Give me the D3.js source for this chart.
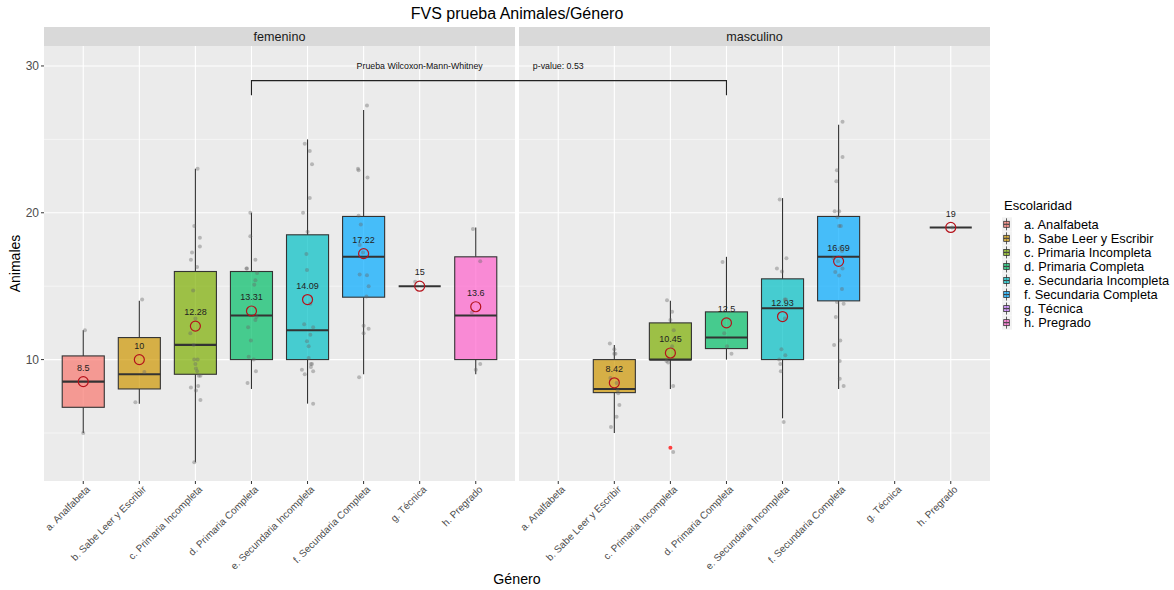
<!DOCTYPE html>
<html><head><meta charset="utf-8">
<script src="https://cdn.jsdelivr.net/npm/d3@7"></script>
<style>body{margin:0;background:#fff} text{font-family:"Liberation Sans",Arial,sans-serif}</style>
</head><body><svg id="c" width="1174" height="590"></svg>
<script>
const categories = ["a. Analfabeta","b. Sabe Leer y Escribir","c. Primaria Incompleta","d. Primaria Completa","e. Secundaria Incompleta","f. Secundaria Completa","g. Técnica","h. Pregrado"];
const genders = ["femenino","masculino"];
const colors = ["#F8766D","#CD9600","#7CAE00","#00BE67","#00BFC4","#00A9FF","#C77CFF","#FF61CC"];
// [lower whisker, q1, median, q3, upper whisker]
const femBoxes = [[5,6.75,8.5,10.25,12],[7,8,9,11.5,14],[3,9,11,16,23],[8,10,13,16,20],[7,10,12,18.5,25],[9,14.25,17,19.75,27],[15,15,15,15,15],[9,10,13,17,19]];
const mascBoxes = [null,[5,7.75,8,10,11],[8,10,10,12.5,14],[10,10.75,11.5,13.25,17],[6,10,13.5,15.5,21],[8,14,17,19.75,26],null,[19,19,19,19,19]];
const femMeans = [8.5,10,12.28,13.31,14.09,17.22,15,13.6];
const mascMeans = [null,8.42,10.45,12.5,12.93,16.69,null,19];
const mascOutliers = [[],[],[4],[],[],[],[],[]];
const femOutliers = [[],[],[],[],[],[],[],[]];
// jittered observations: [value, horizontal jitter in category units]
const femPoints = [
 [[12,.03],[5,0]],
 [[14.1,.05],[9.16,.09],[7.1,-.07]],
 [[23,.04],[19.1,-.02],[18.3,.08],[17.7,.08],[17.3,-.06],[16.8,-.08],[16.3,.03],[14.7,-.04],[12.8,0],[11.8,-.09],[11,-.03],[10,-.02],[10,.04],[9.7,0],[9.4,.01],[9.2,.03],[8.9,.09],[8.9,.06],[8.1,-.08],[8.2,.05],[7.9,.01],[7.25,.09],[3,-.02]],
 [[20,-.02],[18.4,-.02],[16.8,.07],[16.2,-.09],[16.2,-.08],[15.9,.1],[15.4,.07],[15.1,.05],[12.9,.09],[12.7,.07],[12.2,-.06],[11.3,-.01],[10.2,-.05],[10,.04],[9.2,.08],[8.4,-.07]],
 [[24.7,-.05],[24.2,.04],[23.3,.08],[21,.04],[20,-.08],[18.7,0],[17.2,-.02],[16.1,-.01],[13.8,.05],[12.4,-.06],[12.2,.1],[11.7,.05],[11.25,-.01],[10.9,.02],[10.1,.02],[9.7,.06],[9.7,.08],[9.5,.06],[9.3,-.1],[9.2,.1],[9.0,-.05],[7,.1]],
 [[27.3,.06],[23,-.1],[22.9,-.09],[22.4,.07],[19.8,-.09],[19.2,-.05],[17.8,-.07],[17.3,-.01],[15.8,-.07],[15.75,.06],[15,.09],[14.3,.05],[12.3,0],[12.1,.09],[11.8,0],[8.8,-.08]],
 [[15.3,-.08]],
 [[18.9,-.05],[16.7,.08],[13.2,-.07],[9.7,.08],[9.3,0]]
];
const mascPoints = [
 [],
 [[11.1,-.08],[10.7,0],[10.4,0],[10.4,.02],[8.75,-.07],[8.4,.04],[7.9,.06],[7.7,.07],[6.9,.09],[6.1,.04],[5.4,-.06]],
 [[14.05,-.06],[13.25,.03],[12.7,0],[12,.06],[10.9,.03],[9.9,-.07],[9.8,-.04],[8.2,.05],[3.7,.05]],
 [[16.64,-.07],[11.8,-.04],[10.9,.01],[10.4,.09]],
 [[20.9,-.05],[16.9,.07],[16.2,-.1],[16.0,-.01],[14.1,.04],[14.1,.06],[12.8,.04],[10.7,-.02],[10.3,.05],[10,-.06],[9.7,-.04],[9.2,-.03],[5.75,.02]],
 [[26.2,.07],[23.8,.07],[22.9,-.03],[22.15,-.04],[20.1,-.07],[20.1,.01],[19.7,-.02],[19.1,.01],[19.1,.04],[17.6,.03],[17.4,.06],[16.9,-.09],[16.7,-.01],[16.2,.07],[15.96,-.06],[15.73,.01],[14.8,.06],[13.93,-.03],[13.8,.09],[12.9,-.05],[11.3,.03],[11.0,-.08],[9.9,.02],[8.7,.02],[8.2,.09]],
 [],
 [[19.0,.02]]
];
const yTicks = [10,20,30];
const yMinor = [5,15,25];
const testLabel = "Prueba Wilcoxon-Mann-Whitney";
const pLabel = "p-value: 0.53";
const bracket = {from: 4, to: 4, y: 29, drop: 1, textY: 30, labelCat: 7, pCat: 1};

const svg = d3.select("#c");
const panelTop = 46, panelBottom = 481;
const panels = [{x0:44, x1:515}, {x0:519, x1:990}];
const y = d3.scaleLinear().domain([1.73, 31.36]).range([panelBottom, panelTop]);
const boxW = 0.75;
const data = [
  {boxes: femBoxes, means: femMeans, points: femPoints, outliers: femOutliers},
  {boxes: mascBoxes, means: mascMeans, points: mascPoints, outliers: mascOutliers}
];
const fillA = c => { const k = d3.color(c); k.opacity = 0.7; return k.toString(); };

// title
svg.append("text").attr("x", (panels[0].x0 + panels[1].x1)/2).attr("y", 18.5)
  .attr("text-anchor","middle").attr("font-size", 16).attr("fill","#000").text("FVS prueba Animales/Género");

const xs = [];
panels.forEach((p, gi) => {
  const x = d3.scaleLinear().domain([0.3, 8.7]).range([p.x0, p.x1]);
  xs.push(x);
  const g = svg.append("g");
  // strip
  g.append("rect").attr("x", p.x0).attr("y", 27).attr("width", p.x1 - p.x0).attr("height", panelTop - 27).attr("fill", "#D9D9D9");
  g.append("text").attr("x", (p.x0 + p.x1)/2).attr("y", 36.5).attr("dy","0.35em").attr("text-anchor","middle")
    .attr("font-size", 12.6).attr("fill","#1A1A1A").text(genders[gi]);
  // panel
  g.append("rect").attr("x", p.x0).attr("y", panelTop).attr("width", p.x1 - p.x0).attr("height", panelBottom - panelTop).attr("fill", "#EBEBEB");
  g.selectAll(".ymin").data(yMinor).join("line").attr("x1", p.x0).attr("x2", p.x1)
    .attr("y1", d => y(d)).attr("y2", d => y(d)).attr("stroke","#fff").attr("stroke-width",0.55);
  g.selectAll(".ymaj").data(yTicks).join("line").attr("x1", p.x0).attr("x2", p.x1)
    .attr("y1", d => y(d)).attr("y2", d => y(d)).attr("stroke","#fff").attr("stroke-width",1.1);
  g.selectAll(".xmaj").data(categories).join("line").attr("x1", (d,i) => x(i+1)).attr("x2", (d,i) => x(i+1))
    .attr("y1", panelTop).attr("y2", panelBottom).attr("stroke","#fff").attr("stroke-width",1.1);

  const D = data[gi];
  // boxes
  D.boxes.forEach((b, i) => {
    if (!b) return;
    const cx = x(i+1), xl = x(i+1-boxW/2), xr = x(i+1+boxW/2);
    g.append("line").attr("x1",cx).attr("x2",cx).attr("y1",y(b[4])).attr("y2",y(b[3])).attr("stroke","#333").attr("stroke-width",1.1);
    g.append("line").attr("x1",cx).attr("x2",cx).attr("y1",y(b[1])).attr("y2",y(b[0])).attr("stroke","#333").attr("stroke-width",1.1);
    g.append("rect").attr("x",xl).attr("width",xr-xl).attr("y",y(b[3])).attr("height",y(b[1])-y(b[3]))
      .attr("fill",fillA(colors[i])).attr("stroke","#333").attr("stroke-width",1.1);
    g.append("line").attr("x1",xl).attr("x2",xr).attr("y1",y(b[2])).attr("y2",y(b[2])).attr("stroke","#333").attr("stroke-width",2.1);
    D.outliers[i].forEach(o => {
      g.append("circle").attr("cx",cx).attr("cy",y(o)).attr("r",2).attr("fill","#FF2020").attr("fill-opacity",0.85);
    });
  });
  // mean labels
  D.means.forEach((m, i) => {
    if (m == null) return;
    g.append("text").attr("x", x(i+1)).attr("y", y(m + 0.95)).attr("dy","0.35em").attr("text-anchor","middle")
      .attr("font-size", 9).attr("fill","#222").text(String(m));
  });
  // jitter points
  D.points.forEach((pts, i) => {
    pts.forEach(pt => {
      g.append("circle").attr("cx", x(i+1+pt[1])).attr("cy", y(pt[0])).attr("r", 2)
        .attr("fill","#666").attr("fill-opacity",0.4);
    });
  });
  // mean circles
  D.means.forEach((m, i) => {
    if (m == null) return;
    g.append("circle").attr("cx", x(i+1)).attr("cy", y(m)).attr("r", 5)
      .attr("fill","none").attr("stroke","#B5121B").attr("stroke-width",1.2);
  });
  // x axis ticks & labels
  g.selectAll(".xt").data(categories).join("line").attr("x1",(d,i)=>x(i+1)).attr("x2",(d,i)=>x(i+1))
    .attr("y1",panelBottom).attr("y2",panelBottom+3).attr("stroke","#333").attr("stroke-width",1);
  g.selectAll(".xl").data(categories).join("text")
    .attr("transform",(d,i)=>`translate(${x(i+1)+2.5},${panelBottom+4}) rotate(-45)`)
    .attr("dy","0.7em").attr("text-anchor","end").attr("font-size",10).attr("fill","#4D4D4D").text(d=>d);
});

// y axis
const ya = svg.append("g");
ya.selectAll("line").data(yTicks).join("line").attr("x1",41).attr("x2",44).attr("y1",d=>y(d)).attr("y2",d=>y(d)).attr("stroke","#333");
ya.selectAll("text").data(yTicks).join("text").attr("x",39).attr("y",d=>y(d)).attr("dy","0.35em").attr("text-anchor","end")
  .attr("font-size",12).attr("fill","#4D4D4D").text(d=>d);
svg.append("text").attr("transform",`translate(20,${(panelTop+panelBottom)/2}) rotate(-90)`).attr("text-anchor","middle")
  .attr("font-size",14).attr("fill","#000").text("Animales");
svg.append("text").attr("x",(panels[0].x0+panels[1].x1)/2).attr("y",584).attr("text-anchor","middle")
  .attr("font-size",14.2).attr("fill","#000").text("Género");

// bracket annotation
const bx1 = xs[0](bracket.from), bx2 = xs[1](bracket.to);
svg.append("path").attr("d",`M${bx1},${y(bracket.y-bracket.drop)}V${y(bracket.y)}H${bx2}V${y(bracket.y-bracket.drop)}`)
  .attr("fill","none").attr("stroke","#222").attr("stroke-width",1.1);
svg.append("text").attr("x",xs[0](bracket.labelCat)).attr("y",y(bracket.textY)).attr("dy","0.35em").attr("text-anchor","middle")
  .attr("font-size",8.8).attr("fill","#111").text(testLabel);
svg.append("text").attr("x",xs[1](bracket.pCat)).attr("y",y(bracket.textY)).attr("dy","0.35em").attr("text-anchor","middle")
  .attr("font-size",8.8).attr("fill","#111").text(pLabel);

// legend
const lg = svg.append("g");
lg.append("text").attr("x",1004).attr("y",205).attr("dy","0.35em").attr("font-size",13).attr("fill","#000").text("Escolaridad");
categories.forEach((c, i) => {
  const cy = 224.3 + i*14.05;
  lg.append("rect").attr("x",1002).attr("y",cy-7).attr("width",10).attr("height",14).attr("fill","#F2F2F2");
  lg.append("line").attr("x1",1006.5).attr("x2",1006.5).attr("y1",cy-6).attr("y2",cy+6).attr("stroke","#333").attr("stroke-width",0.8);
  lg.append("rect").attr("x",1003.7).attr("y",cy-3).attr("width",5.6).attr("height",6)
    .attr("fill",fillA(colors[i])).attr("stroke","#333").attr("stroke-width",0.8);
  lg.append("line").attr("x1",1003.7).attr("x2",1009.3).attr("y1",cy).attr("y2",cy).attr("stroke","#333").attr("stroke-width",1);
  lg.append("circle").attr("cx",1006.5).attr("cy",cy).attr("r",1.3).attr("fill","#666").attr("fill-opacity",0.4);
  lg.append("text").attr("x",1024).attr("y",cy).attr("dy","0.35em").attr("font-size",12.8).attr("fill","#000").text(c);
});
</script></body></html>
